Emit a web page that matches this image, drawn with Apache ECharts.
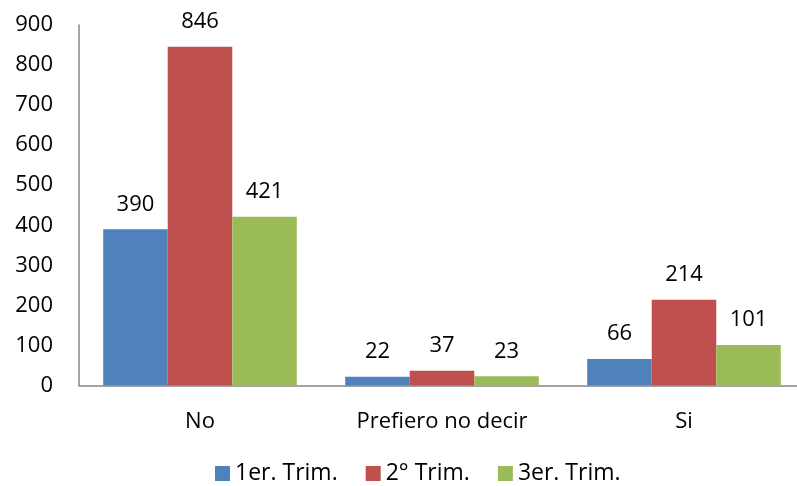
<!DOCTYPE html>
<html>
<head>
<meta charset="utf-8">
<script src="https://cdn.jsdelivr.net/npm/echarts@6/dist/echarts.min.js"></script>
<style>
  html, body { margin: 0; padding: 0; background: #fff; overflow: hidden; }
  #chart { width: 805px; height: 486px; }
</style>
</head>
<body>
<div id="chart"></div>
<script>
// Respuestas por trimestre
const categories = ['No', 'Prefiero no decir', 'Si'];
const seriesNames = ['1er. Trim.', '2° Trim.', '3er. Trim.'];
const trim1 = [390, 22, 66];
const trim2 = [846, 37, 214];
const trim3 = [421, 23, 101];
const yTicks = [0, 100, 200, 300, 400, 500, 600, 700, 800, 900];

const colors = ['#4F81BD', '#C0504D', '#9BBB59'];
const fontFamily = '"Open Sans", Lato, sans-serif';
const fontSize = 22;

function barSeries(name, data, color) {
  return {
    name: name,
    type: 'bar',
    data: data,
    barGap: '0%',
    barCategoryGap: '20%',
    itemStyle: { color: color },
    label: {
      show: true,
      position: 'top',
      distance: 14,
      color: '#000',
      fontSize: fontSize,
      fontFamily: fontFamily
    }
  };
}

const chart = echarts.init(document.getElementById('chart'), null, { renderer: 'canvas' });
chart.setOption({
  animation: false,
  color: colors,
  grid: { left: 79, right: 0, top: 25, height: 360.5, containLabel: false },
  legend: {
    top: 457,
    left: 210,
    itemWidth: 15,
    itemHeight: 15,
    itemGap: 28,
    icon: 'rect',
    textStyle: { fontSize: 23, fontFamily: fontFamily, color: '#000' },
    data: seriesNames
  },
  xAxis: {
    type: 'category',
    data: categories,
    axisLine: { lineStyle: { color: '#868686', width: 1.5 } },
    axisTick: { show: false },
    axisLabel: { fontSize: fontSize, fontFamily: fontFamily, color: '#000', margin: 25 }
  },
  yAxis: {
    type: 'value',
    min: yTicks[0],
    max: yTicks[yTicks.length - 1],
    interval: yTicks[1] - yTicks[0],
    splitLine: { show: false },
    axisLine: { show: true, lineStyle: { color: '#868686', width: 1.5 } },
    axisTick: { show: false },
    axisLabel: { fontSize: fontSize, fontFamily: fontFamily, color: '#000', margin: 26 }
  },
  series: [
    barSeries(seriesNames[0], trim1, colors[0]),
    barSeries(seriesNames[1], trim2, colors[1]),
    barSeries(seriesNames[2], trim3, colors[2])
  ]
});
</script>
</body>
</html>
